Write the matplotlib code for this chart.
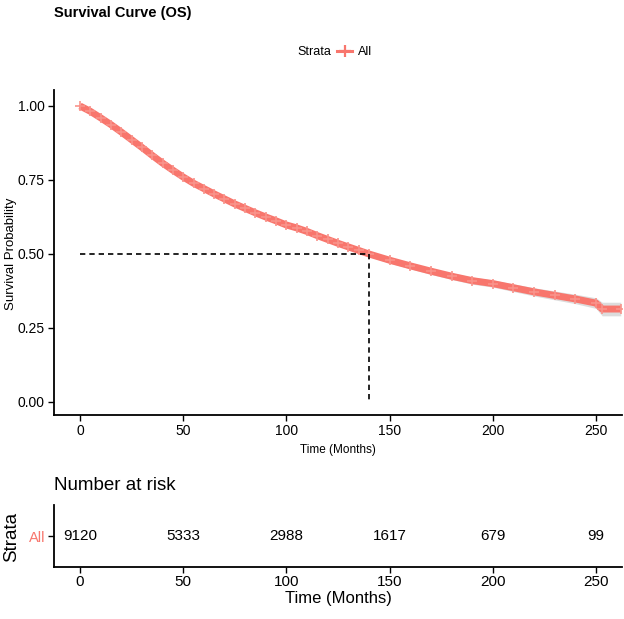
import matplotlib
matplotlib.use("Agg")
import matplotlib.pyplot as plt
from matplotlib.lines import Line2D

# ---------------- data ----------------
time_months = [0, 5, 10, 15, 20, 25, 30, 35, 40, 45, 50, 55, 60, 65, 70, 75, 80, 85, 90, 95,
               100, 105, 110, 115, 120, 125, 130, 135, 140, 150, 160, 170, 180, 190, 200,
               210, 220, 230, 240, 250, 253, 262]
survival = [1.0, 0.982, 0.96, 0.937, 0.912, 0.886, 0.86, 0.833, 0.807, 0.783, 0.76, 0.739,
            0.721, 0.703, 0.686, 0.669, 0.654, 0.639, 0.625, 0.612, 0.598, 0.588, 0.576,
            0.562, 0.549, 0.536, 0.524, 0.512, 0.50, 0.479, 0.46, 0.442, 0.425, 0.41, 0.40,
            0.386, 0.372, 0.36, 0.348, 0.334, 0.314, 0.314]
ci_half = [0.0, 0.003, 0.004, 0.005, 0.005, 0.005, 0.006, 0.006, 0.006, 0.006, 0.006, 0.006,
           0.007, 0.007, 0.007, 0.007, 0.007, 0.007, 0.008, 0.008, 0.008, 0.008, 0.008,
           0.008, 0.009, 0.009, 0.009, 0.009, 0.009, 0.010, 0.010, 0.011, 0.011, 0.012,
           0.012, 0.013, 0.014, 0.015, 0.016, 0.018, 0.023, 0.023]
median_time = 140
risk_times = [0, 50, 100, 150, 200, 250]
n_at_risk = [9120, 5333, 2988, 1617, 679, 99]
x_ticks = [0, 50, 100, 150, 200, 250]
y_ticks = [0.00, 0.25, 0.50, 0.75, 1.00]
strata_label = "All"

COL = "#F8766D"
plt.rcParams["font.family"] = ["Liberation Sans", "DejaVu Sans"]

W, H = 624, 619
fig = plt.figure(figsize=(W / 100, H / 100), dpi=100)

def fx(px):
    return px / W

def fy(py):
    return 1 - py / H

# ---------------- main survival axes ----------------
ax = fig.add_axes([fx(54), fy(415), fx(622) - fx(54), fy(90) - fy(415)])
lower = [s - c for s, c in zip(survival, ci_half)]
upper = [s + c for s, c in zip(survival, ci_half)]
ax.fill_between(time_months, lower, upper, color="#BBBBBB", alpha=0.5, lw=0)
ax.plot(time_months, survival, color=COL, lw=5, solid_capstyle="butt")
ax.plot(time_months, survival, ls="none", marker="+", ms=7, mew=1.2, color="#F9938B")

# median lines
ax.plot([0, median_time], [0.5, 0.5], color="black", lw=1.2, dashes=(3.2, 2.4))
ax.plot([median_time, median_time], [0.5, 0.0], color="black", lw=1.2, dashes=(3.2, 2.4))

ax.set_xlim(-12.6, 262.6)
ax.set_ylim(-0.044, 1.054)
ax.set_xticks(x_ticks)
ax.set_yticks(y_ticks)
ax.set_yticklabels([f"{v:.2f}" for v in y_ticks])
for s in ["top", "right"]:
    ax.spines[s].set_visible(False)
for s in ["left", "bottom"]:
    ax.spines[s].set_linewidth(1.3)
ax.tick_params(axis="both", length=4, width=1.0, colors="black", labelsize=10, pad=2.5)
ax.set_xlabel("Time (Months)", fontsize=8.5, labelpad=4)
fig.text(fx(11), fy(254), "Survival Probability", fontsize=9.5, rotation=90,
         ha="center", va="center")

# title
fig.text(fx(54), fy(13), "Survival Curve (OS)", fontsize=10.5, fontweight="bold",
         ha="left", va="center")

# legend
fig.text(fx(331), fy(52), "Strata", fontsize=9, ha="right", va="center")
handle = Line2D([], [], color=COL, lw=2.2, marker="+", ms=8, mew=1.6)
fig.legend(handles=[handle], labels=[strata_label], loc="center left",
           bbox_to_anchor=(fx(337), fy(52)), frameon=False, fontsize=9,
           handlelength=1.2, handletextpad=0.5, borderpad=0, borderaxespad=0)

# ---------------- risk table ----------------
rx = fig.add_axes([fx(54), fy(567), fx(622) - fx(54), fy(505) - fy(567)])
for t, n in zip(risk_times, n_at_risk):
    rx.text(t, 0.5, str(n), fontsize=11, ha="center", va="center")
rx.set_xlim(-12.6, 262.6)
rx.set_ylim(0, 1)
rx.set_xticks(x_ticks)
rx.set_yticks([0.5])
rx.set_yticklabels([strata_label])
rx.get_yticklabels()[0].set_color(COL)
for s in ["top", "right"]:
    rx.spines[s].set_visible(False)
for s in ["left", "bottom"]:
    rx.spines[s].set_linewidth(1.3)
rx.tick_params(axis="x", length=4, width=1.0, labelsize=11, pad=2)
rx.tick_params(axis="y", length=4, width=1.0, labelsize=10.5, pad=2)
rx.set_xlabel("Time (Months)", fontsize=12, labelpad=1)
fig.text(fx(12), fy(537), "Strata", fontsize=13.5, rotation=90,
         ha="center", va="center")
fig.text(fx(54), fy(485), "Number at risk", fontsize=13.5, ha="left", va="center")

fig.savefig("out.png", dpi=100)
